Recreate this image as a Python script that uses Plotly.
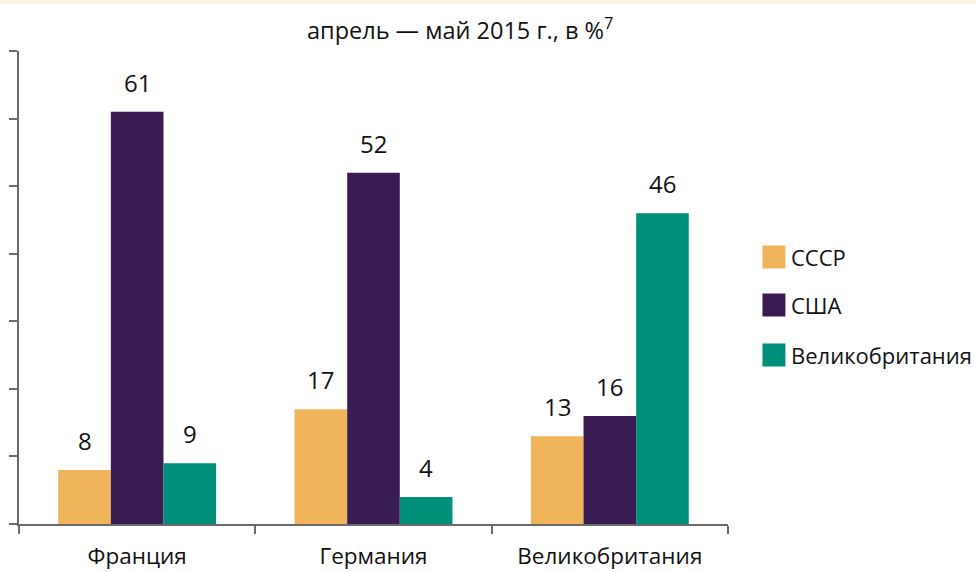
import plotly.graph_objects as go

categories = ["Франция", "Германия", "Великобритания"]
series_names = ["СССР", "США", "Великобритания"]
ussr = [8, 17, 13]
usa = [61, 52, 16]
uk = [9, 4, 46]
colors = ["#F0B45A", "#3A1B52", "#00907A"]
title_text = "апрель — май 2015 г., в %<sup>7</sup>"

values = [ussr, usa, uk]
FONT = "Open Sans"
bargap = 0.332

L, T, PW, PH = 18.5, 51, 710, 473

def px(x):
    return (x - L) / PW

def py(y):
    return (T + PH - y) / PH

fig = go.Figure()
for name, vals, col in zip(series_names, values, colors):
    fig.add_trace(go.Bar(x=categories, y=vals, name=name, marker_color=col,
                         marker_line_width=0, showlegend=False))

# value labels
bw = (1 - bargap) / len(values)
for j, vals in enumerate(values):
    off = (j - (len(values) - 1) / 2) * bw
    for i, v in enumerate(vals):
        fig.add_annotation(x=i + off, y=v, xref="x", yref="y", text=str(v),
                           showarrow=False, yanchor="bottom", yshift=11,
                           font=dict(family=FONT, size=24, color="#111"))

# legend (manual)
leg_y = [257, 305, 355]
for name, col, yp in zip(series_names, colors, leg_y):
    fig.add_shape(type="rect", xref="paper", yref="paper",
                  x0=px(763), x1=px(786), y0=py(yp + 11.5), y1=py(yp - 11.5),
                  fillcolor=col, line_width=0)
    fig.add_annotation(xref="paper", yref="paper", x=px(790), y=py(yp),
                       text=name, showarrow=False,
                       xanchor="left", yanchor="middle",
                       font=dict(family=FONT, size=22, color="#111"))

# title
fig.add_annotation(xref="paper", yref="paper", x=px(460), y=py(29),
                   text=title_text, showarrow=False,
                   xanchor="center", yanchor="middle",
                   font=dict(family=FONT, size=23.5, color="#111"))

# top band
fig.add_shape(type="rect", xref="paper", yref="paper",
              x0=px(0), x1=px(977), y0=py(4), y1=py(0),
              fillcolor="#FDF1E2", line_width=0, layer="below")

fig.update_layout(
    width=977, height=572,
    margin=dict(l=L, r=977 - L - PW, t=T, b=572 - T - PH, autoexpand=False),
    barmode="group", bargap=bargap, bargroupgap=0,
    plot_bgcolor="white", paper_bgcolor="white",
    font=dict(family=FONT, color="#111"),
)
fig.update_xaxes(showline=True, linecolor="#6B6B6B", linewidth=2,
                 ticks="outside", tickson="boundaries", ticklen=8,
                 tickcolor="#6B6B6B", tickwidth=2, automargin=False,
                 tickfont=dict(family=FONT, size=22.5, color="#111"),
                 ticklabelstandoff=11)
fig.update_yaxes(range=[0, 70], dtick=10, showline=True, linecolor="#6B6B6B",
                 linewidth=2, ticks="outside", ticklen=8, tickcolor="#6B6B6B",
                 tickwidth=2, showticklabels=False, showgrid=False,
                 zeroline=False, automargin=False)

fig.write_html("out.html", config={"displayModeBar": False},
               post_script="document.body.style.margin='0';")
